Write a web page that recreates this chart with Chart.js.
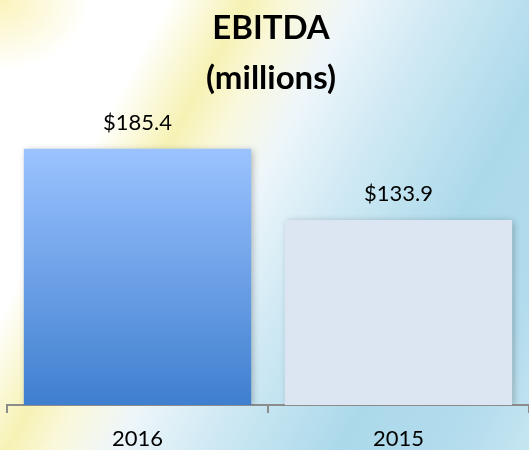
<!DOCTYPE html>
<html>
<head>
<meta charset="utf-8">
<script src="https://cdn.jsdelivr.net/npm/chart.js@4/dist/chart.umd.min.js"></script>
<style>
  html, body { margin: 0; padding: 0; }
  body {
    width: 529px; height: 450px; overflow: hidden;
    background:
      radial-gradient(ellipse 90px 70px at 0% 0%, rgba(250,240,170,0.8), rgba(250,240,170,0) 100%),
      linear-gradient(118deg, #ffffff 0%, #ffffff 22%, #f6f2b4 32%, #faf8dc 38%, #eef6fa 46%, #cfe9f4 58%, #acd9ea 75%, #b3dced 90%, #c6e5f1 100%);
  }
  #wrap { position: relative; width: 529px; height: 450px; }
</style>
</head>
<body>
<div id="wrap"><canvas id="c"></canvas></div>
<script>
// data
const categories = ['2016', '2015'];
const ebitda = [185.4, 133.9];
const valueLabels = ['$185.4', '$133.9'];

const FONT = 'Lato, "Open Sans", sans-serif';

function barFill(context) {
  const chart = context.chart;
  if (context.dataIndex !== 0) return '#dce6f2';
  const area = chart.chartArea;
  if (!area) return '#6a9fe8';
  const yTop = chart.scales.y.getPixelForValue(ebitda[0]);
  const g = chart.ctx.createLinearGradient(0, yTop, 0, area.bottom);
  g.addColorStop(0, '#9bc3ff');
  g.addColorStop(1, '#3f7fcf');
  return g;
}

// soft shadow behind bars, then value labels on top
const barExtras = {
  id: 'barExtras',
  beforeDatasetsDraw(chart) {
    const ctx = chart.ctx;
    ctx.save();
    ctx.shadowColor = 'rgba(0,0,0,0.28)';
    ctx.shadowBlur = 7;
    ctx.shadowOffsetX = 2;
    ctx.shadowOffsetY = 1;
  },
  afterDatasetsDraw(chart) {
    const ctx = chart.ctx;
    ctx.restore();
    const meta = chart.getDatasetMeta(0);
    ctx.save();
    ctx.font = '22px ' + FONT;
    ctx.fillStyle = '#000';
    ctx.textAlign = 'center';
    ctx.textBaseline = 'middle';
    meta.data.forEach((bar, i) => {
      ctx.fillText(valueLabels[i], bar.x, bar.y - 26);
    });
    ctx.restore();
  }
};

new Chart(document.getElementById('c'), {
  type: 'bar',
  data: {
    labels: categories,
    datasets: [{
      data: ebitda,
      backgroundColor: barFill,
      borderWidth: 0,
      barPercentage: 0.871,
      categoryPercentage: 1
    }]
  },
  options: {
    responsive: true,
    maintainAspectRatio: false,
    animation: false,
    layout: { padding: { left: 7, right: -6, top: 0, bottom: -15 } },
    plugins: {
      legend: { display: false },
      tooltip: { enabled: false },
      title: {
        display: true,
        text: ['EBITDA', '(millions)'],
        color: '#000',
        font: { family: FONT, size: 33, weight: 'bold', lineHeight: 1.5 },
        padding: { top: 4, bottom: 2 }
      }
    },
    scales: {
      x: {
        grid: {
          display: true,
          drawOnChartArea: false,
          drawTicks: true,
          tickLength: 8,
          color: '#8c8c8c',
          lineWidth: 2,
          offset: true
        },
        border: { display: true, color: '#8c8c8c', width: 2 },
        ticks: {
          color: '#000',
          padding: 15,
          font: { family: FONT, size: 22, lineHeight: 1 }
        }
      },
      y: {
        display: false,
        min: 0,
        max: 217
      }
    }
  },
  plugins: [barExtras]
});
</script>
</body>
</html>
